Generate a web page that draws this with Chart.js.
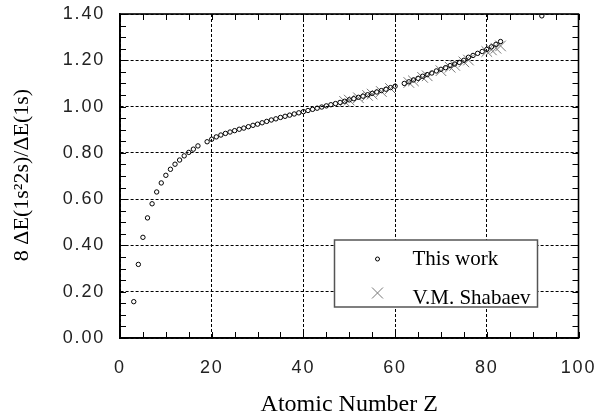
<!DOCTYPE html>
<html lang="en">
<head>
    <meta charset="UTF-8">
    <title>8 dE(1s2 2s)/dE(1s) vs Z</title>
    <script src="https://cdn.jsdelivr.net/npm/chart.js"></script>
    <style>
        html, body { margin: 0; padding: 0; background: #fff; }
        #wrap { width: 598px; height: 415px; }
    </style>
</head>
<body>
    <div id="wrap"><canvas id="ratioChart"></canvas></div>
    <script>
        // this work
        var zThis = [3, 4, 5, 6, 7, 8, 9, 10, 11, 12, 13, 14, 15, 16, 17,
            19, 20, 21, 22, 23, 24, 25, 26, 27, 28, 29, 30, 31, 32, 33, 34, 35, 36, 37, 38, 39,
            40, 41, 42, 43, 44, 45, 46, 47, 48, 49, 50, 51, 52, 53, 54, 55, 56, 57, 58, 59, 60,
            62, 63, 64, 65, 66, 67, 68, 69, 70, 71, 72, 73, 74, 75, 76, 77, 78, 79, 80, 81, 82, 83,
            92];
        var ratioThis = [0.157, 0.318, 0.435, 0.519, 0.580, 0.631, 0.670, 0.703, 0.729, 0.751, 0.769, 0.787, 0.802, 0.816, 0.830,
            0.848, 0.859, 0.869, 0.877, 0.884, 0.890, 0.896, 0.902, 0.907, 0.913, 0.919, 0.924, 0.930, 0.936, 0.942, 0.947, 0.953, 0.958, 0.963, 0.968, 0.973,
            0.978, 0.983, 0.988, 0.993, 0.998, 1.003, 1.008, 1.013, 1.018, 1.023, 1.029, 1.034, 1.040, 1.045, 1.051, 1.057, 1.063, 1.069, 1.075, 1.082, 1.088,
            1.100, 1.107, 1.115, 1.122, 1.131, 1.138, 1.145, 1.154, 1.161, 1.168, 1.177, 1.184, 1.191, 1.200, 1.213, 1.221, 1.230, 1.238, 1.247, 1.258, 1.269, 1.281,
            1.392];

        // V.M. Shabaev
        var zShabaev = [49, 50, 52, 54, 55, 57, 59, 63, 64, 66, 67, 70, 72, 73, 75, 76, 80, 81, 82, 83];
        var ratioShabaev = [1.022, 1.028, 1.038, 1.048, 1.054, 1.065, 1.078, 1.104, 1.111, 1.126, 1.133, 1.155, 1.170, 1.178, 1.193, 1.201, 1.238, 1.245, 1.252, 1.262];

        var xTicks = [0, 20, 40, 60, 80, 100];
        var yTicks = [0, 0.2, 0.4, 0.6, 0.8, 1.0, 1.2, 1.4];
        var xTitle = 'Atomic Number Z';
        var yTitle = '8 \u0394E(1s\u00B22s)/\u0394E(1s)';

        function pairs(xs, ys) {
            return xs.map(function (x, i) { return { x: x, y: ys[i] }; });
        }

        function noPad(s) {
            s.paddingTop = s.paddingBottom = s.paddingLeft = s.paddingRight = 0;
        }

        // inward ticks on all four sides, frame, titles and boxed legend
        var frame = {
            id: 'frame',
            beforeDraw: function (chart) {
                chart.ctx.letterSpacing = '1.8px';
            },
            afterDraw: function (chart) {
                var ctx = chart.ctx, ca = chart.chartArea;
                var xs = chart.scales.x, ys = chart.scales.y;
                ctx.save();
                ctx.letterSpacing = '0px';
                ctx.strokeStyle = '#000';
                ctx.lineWidth = 1;
                var v, p;
                for (v = 0; v <= 100; v += 5) {
                    p = Math.round(xs.getPixelForValue(v)) + 0.5;
                    ctx.beginPath();
                    ctx.moveTo(p, ca.bottom); ctx.lineTo(p, ca.bottom - 6);
                    ctx.moveTo(p, ca.top); ctx.lineTo(p, ca.top + 6);
                    ctx.stroke();
                }
                for (v = 0; v <= 28; v++) {
                    p = Math.round(ys.getPixelForValue(v * 0.05)) + 0.5;
                    ctx.beginPath();
                    ctx.moveTo(ca.left, p); ctx.lineTo(ca.left + 6, p);
                    ctx.moveTo(ca.right, p); ctx.lineTo(ca.right - 6, p);
                    ctx.stroke();
                }
                ctx.lineWidth = 1.6;
                ctx.strokeRect(ca.left, ca.top, ca.right - ca.left, ca.bottom - ca.top);

                // axis titles
                ctx.fillStyle = '#000';
                ctx.textAlign = 'center';
                ctx.textBaseline = 'alphabetic';
                ctx.font = '24px "Liberation Serif", serif';
                ctx.fillText(xTitle, (ca.left + ca.right) / 2, 410.5);
                ctx.save();
                ctx.font = '22px "Liberation Serif", serif';
                ctx.translate(28, 175);
                ctx.rotate(-Math.PI / 2);
                ctx.fillText(yTitle, 0, 0);
                ctx.restore();

                // legend box
                var bw = 203, bh = 67;
                var bx = ca.right - 41 - bw, by = ca.bottom - 31 - bh;
                ctx.fillStyle = '#fff';
                ctx.fillRect(bx, by, bw, bh);
                ctx.strokeStyle = '#555';
                ctx.lineWidth = 1.5;
                ctx.strokeRect(bx, by, bw, bh);
                ctx.font = '21px "Liberation Serif", serif';
                ctx.textAlign = 'left';
                chart.data.datasets.forEach(function (ds, i) {
                    ctx.strokeStyle = ds.borderColor;
                    ctx.lineWidth = ds.borderWidth;
                    Chart.helpers.drawPoint(ctx, {
                        pointStyle: ds.pointStyle,
                        radius: i === 0 ? 2 : 7.8,
                        borderWidth: ds.borderWidth,
                        rotation: 0
                    }, bx + 43, by + 19 + i * 34);
                    ctx.fillStyle = '#000';
                    ctx.fillText(ds.label, bx + 78, by + 25 + i * 38.5);
                });
                ctx.restore();
            }
        };

        var ctx = document.getElementById('ratioChart').getContext('2d');
        var ratioChart = new Chart(ctx, {
            type: 'scatter',
            data: {
                datasets: [{
                    label: 'This work',
                    data: pairs(zThis, ratioThis),
                    pointStyle: 'circle',
                    pointRadius: 2.2,
                    borderColor: '#000',
                    backgroundColor: 'rgba(0,0,0,0)',
                    borderWidth: 1
                }, {
                    label: 'V.M. Shabaev',
                    data: pairs(zShabaev, ratioShabaev),
                    pointStyle: 'crossRot',
                    pointRadius: 7.5,
                    borderColor: '#777',
                    backgroundColor: '#777',
                    borderWidth: 1
                }]
            },
            options: {
                responsive: true,
                maintainAspectRatio: false,
                animation: false,
                layout: { padding: { top: 14, right: 19.5, left: 0, bottom: 0 } },
                plugins: {
                    legend: { display: false },
                    tooltip: { enabled: false }
                },
                scales: {
                    x: {
                        type: 'linear',
                        min: 0, max: 100,
                        afterBuildTicks: function (s) { s.ticks = xTicks.map(function (v) { return { value: v }; }); },
                        afterFit: function (s) { s.height = 77; noPad(s); },
                        ticks: {
                            padding: 19,
                            color: '#222',
                            font: { family: '"Liberation Sans", Arial, sans-serif', size: 18 },
                            maxRotation: 0
                        },
                        grid: { color: '#000', lineWidth: 1, drawTicks: false },
                        border: { display: true, color: '#000', width: 1.6, dash: [3, 2] }
                    },
                    y: {
                        type: 'linear',
                        min: 0, max: 1.4,
                        afterBuildTicks: function (s) { s.ticks = yTicks.map(function (v) { return { value: v }; }); },
                        afterFit: function (s) { s.width = 120; noPad(s); },
                        ticks: {
                            padding: 15,
                            color: '#222',
                            font: { family: '"Liberation Sans", Arial, sans-serif', size: 18 },
                            callback: function (v) { return Number(v).toFixed(2); }
                        },
                        grid: { color: '#000', lineWidth: 1, drawTicks: false },
                        border: { display: true, color: '#000', width: 1.6, dash: [3, 2] }
                    }
                }
            },
            plugins: [frame]
        });
    </script>
</body>
</html>
